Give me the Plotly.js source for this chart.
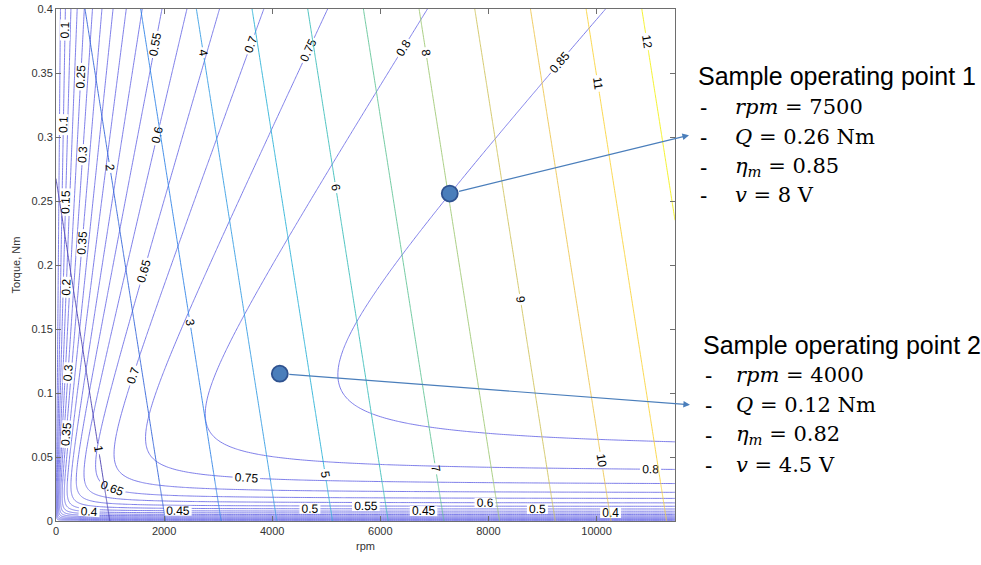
<!DOCTYPE html>
<html><head><meta charset="utf-8">
<script src="https://cdn.plot.ly/plotly-3.0.1.min.js"></script>
<style>html,body{margin:0;padding:0;background:#fff}</style>
</head><body><div id="chart" style="width:981px;height:565px"></div>
<script>
// ---- motor constants (contours are drawn from this motor model) ----
const motorKv = [1030];      // rpm per volt
const motorR = [0.0335];     // winding resistance, ohm
const motorI0 = [1.0];       // no-load current, A
const rpmRange = [0, 11451];
const torqueRange = [0, 0.4];
const effLevels = [0.05, 0.851, 0.05];   // start, end, step
const voltLevels = [1, 12, 1];
const xTickVals = [0, 2000, 4000, 6000, 8000, 10000];
const sampleRpm = [7284, 4140];
const sampleTorque = [0.2558, 0.1151];
const arrowRpm = [11710, 11728];
const arrowTorque = [0.3014, 0.0908];
const sampleTitles = ['Sample operating point 1', 'Sample operating point 2'];
const sampleLines1 = ['<i>rpm</i> = 7500', '<i>Q</i> = 0.26 Nm', '<i>η</i><sub><i>m</i></sub> = 0.85', '<i>v</i> = 8 V'];
const sampleLines2 = ['<i>rpm</i> = 4000', '<i>Q</i> = 0.12 Nm', '<i>η</i><sub><i>m</i></sub> = 0.82', '<i>v</i> = 4.5 V'];
const parula = [[0,'#4a3fb0'],[0.125,'#2a72e8'],[0.25,'#3a98e6'],[0.375,'#2bb5d6'],[0.5,'#45c2aa'],[0.625,'#9acb7a'],[0.75,'#dcc35c'],[0.875,'#fbc94a'],[1,'#f3f01a']];

// ---- evaluation grid ----
const rpmGrid = [];
for (let r = 0; r < 400; r += 8) rpmGrid.push(r);
for (let r = 400; r < rpmRange[1]; r += 40) rpmGrid.push(r);
rpmGrid.push(rpmRange[1]);
const qGrid = [];
for (let q = 0; q < 0.03; q += 0.0002) qGrid.push(q);
for (let q = 0.03; q < torqueRange[1]; q += 0.002) qGrid.push(q);
qGrid.push(torqueRange[1]);

const Kv = motorKv[0], R = motorR[0], I0 = motorI0[0];
const Kt = 60 / (2 * Math.PI * Kv);
const effZ = [], voltZ = [];
for (const q of qGrid) {
  const er = [], vr = [];
  for (const n of rpmGrid) {
    const I = q / Kt + I0;
    const emf = n / Kv;
    const v = emf + I * R;
    vr.push(v);
    er.push(v > 0 ? (q * n * 2 * Math.PI / 60) / (v * I) : 0);
  }
  effZ.push(er); voltZ.push(vr);
}

const effColor = 'rgb(112,112,230)';
const labFont = {family:'Liberation Sans, Arial', size:12, color:'#000'};
const traces = [
  {type:'contour', x: rpmGrid, y: qGrid, z: effZ, showscale:false, hoverinfo:'skip',
   autocontour:false, contours:{start:effLevels[0], end:effLevels[1], size:effLevels[2], coloring:'lines', showlabels:true, labelfont:labFont},
   colorscale:[[0,effColor],[1,effColor]], line:{width:0.9, smoothing:1}},
  {type:'contour', x: rpmGrid, y: qGrid, z: voltZ, showscale:false, hoverinfo:'skip',
   autocontour:false, zmin:voltLevels[0], zmax:voltLevels[1],
   contours:{start:voltLevels[0], end:voltLevels[1], size:voltLevels[2], coloring:'lines', showlabels:true, labelfont:labFont},
   colorscale:parula, line:{width:0.9, smoothing:1}},
  {type:'scatter', mode:'markers', x: sampleRpm, y: sampleTorque, hoverinfo:'skip',
   marker:{size:16, color:'rgb(74,126,187)', line:{color:'rgb(47,82,143)', width:1.8}}}
];

const L = 56, T = 9, W = 619, H = 512;
const px = x => (x - L) / W;
const py = y => (T + H - y) / H;
const ann = [];
for (let i = 0; i < 2; i++) {
  ann.push({xref:'x', yref:'y', axref:'x', ayref:'y', x: arrowRpm[i], y: arrowTorque[i], ax: sampleRpm[i], ay: sampleTorque[i],
    text:'', showarrow:true, arrowhead:2, arrowsize:1.1, arrowwidth:1.2, arrowcolor:'rgb(74,126,187)', startstandoff:8});
}
const titleX = [696, 701], titleY = [76, 345];
const dashX = [698, 703], mathX = [733, 734];
const lineY = [[107,137,167,195],[375,405,435,465]];
const allLines = [sampleLines1, sampleLines2];
for (let i = 0; i < 2; i++) {
  ann.push({xref:'paper', yref:'paper', x: px(titleX[i]), y: py(titleY[i]), xanchor:'left', yanchor:'middle', showarrow:false,
    text: sampleTitles[i], font:{family:'Liberation Sans, Arial', size:25, color:'#000'}});
  for (let j = 0; j < 4; j++) {
    ann.push({xref:'paper', yref:'paper', x: px(dashX[i]), y: py(lineY[i][j]), xanchor:'left', yanchor:'middle', showarrow:false,
      text:'-', font:{family:'Liberation Sans, Arial', size:22, color:'#000'}});
    ann.push({xref:'paper', yref:'paper', x: px(mathX[i]), y: py(lineY[i][j]), xanchor:'left', yanchor:'middle', showarrow:false,
      text: allLines[i][j], font:{family:'DejaVu Serif', size:21, color:'#000'}});
  }
}

const axisCommon = {showgrid:false, zeroline:false, showline:true, linecolor:'#6e6e6e', linewidth:1, mirror:'ticks',
  ticks:'inside', ticklen:5, tickcolor:'#6e6e6e', tickfont:{family:'Liberation Sans, Arial', size:11, color:'#333'}};
const layout = {
  width:981, height:565, margin:{l:L, r:981-L-W, t:T, b:565-T-H}, paper_bgcolor:'#fff', plot_bgcolor:'#fff', showlegend:false,
  xaxis: Object.assign({}, axisCommon, {range: rpmRange, tickvals: xTickVals, tickformat:'d', title:{text:'rpm', font:{family:'Liberation Sans, Arial', size:11, color:'#333'}, standoff:6}}),
  yaxis: Object.assign({}, axisCommon, {range: torqueRange, dtick:0.05, title:{text:'Torque, Nm', font:{family:'Liberation Sans, Arial', size:11, color:'#333'}, standoff:8}}),
  annotations: ann
};
Plotly.newPlot('chart', traces, layout, {displayModeBar:false, staticPlot:true});
</script></body></html>
